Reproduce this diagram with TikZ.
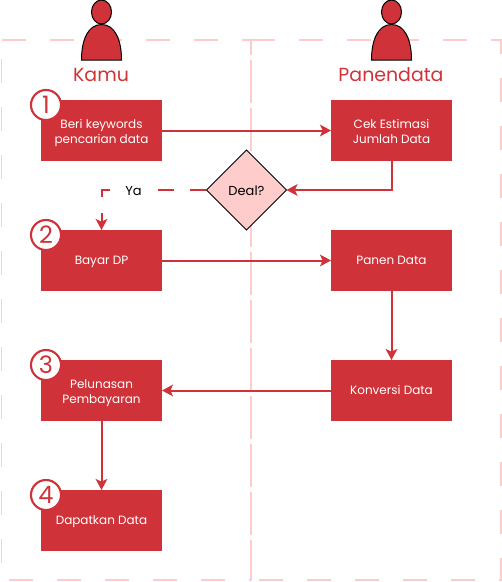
\documentclass[tikz,border=0pt]{standalone}
\usepackage{fontspec}
\setmainfont{Poppins}
\usetikzlibrary{shapes.geometric,arrows.meta}
\definecolor{merah}{HTML}{CF3339}
\definecolor{pink}{HTML}{FFCCCC}
\newcommand{\dualine}[2]{\rule{0pt}{12pt}#1\\#2}
\tikzset{task/.style={draw=none,fill=merah,text=white,rectangle,minimum width=90.75pt,minimum height=45.75pt,inner sep=0pt,outer sep=0pt,align=center,font=\fontsize{9}{11.25}\selectfont,execute at begin node={\rule{0pt}{10.2pt}},execute at end node={\rule[-3.5pt]{0pt}{3.5pt}}}}
\tikzset{badge/.style={circle,draw=merah,fill=white,line width=1.6pt,minimum size=22.5pt,inner sep=0pt,text=merah,font=\fontsize{18}{18}\selectfont}}
\tikzset{deal/.style={diamond,draw=black,fill=pink,line width=0.75pt,minimum width=60pt,minimum height=60pt,inner sep=0pt,outer sep=0pt,text height=8.2pt,font=\fontsize{9.75}{11}\selectfont}}
\tikzset{actor/.style={draw=black,fill=merah,line width=0.75pt}}
\tikzset{lane/.style={draw=pink,line width=1.2pt,dash pattern=on 18pt off 18pt}}
\tikzset{judul/.style={text=merah,font=\fontsize{14.2}{18}\selectfont}}
\tikzset{flow/.style={draw=merah,line width=1.5pt,->}}

\begin{document}
\begin{tikzpicture}[x=0.75pt,y=-0.75pt,>={Stealth[length=8.25pt,width=8.75pt,inset=2pt]}]
    \useasboundingbox (0,0) rectangle (502,582);

    \draw[lane] (1.5,40) -- (251,40) -- (251,580) -- (1.5,580) -- cycle;
    \draw[lane] (251,40) -- (501,40) -- (501,580) -- (251,580) -- cycle;

    \draw[actor] (81.5,60) .. controls (81.5,40) and (88,24.5) .. (101.5,24.5) .. controls (115,24.5) and (121.5,40) .. (121.5,60) -- cycle;
    \draw[actor] (101.5,12) ellipse (10 and 12);
    \draw[actor] (371.5,60) .. controls (371.5,40) and (378,24.5) .. (391.5,24.5) .. controls (405,24.5) and (411.5,40) .. (411.5,60) -- cycle;
    \draw[actor] (391.5,12) ellipse (10 and 12);

    \node[judul] (kamu) at (101,75) {Kamu};
    \node[judul] (panendata) at (391,75) {Panendata};

    \node[task] (beri) at (101.5,130.5) {\dualine{Beri keywords}{pencarian data}};
    \node[task] (cek) at (391.5,130.5) {\dualine{Cek Estimasi}{Jumlah Data}};
    \node[deal] (dealq) at (246.5,190) {Deal?};
    \node[task] (bayar) at (101.5,260.5) {Bayar DP};
    \node[task] (panen) at (391.5,260.5) {Panen Data};
    \node[task] (lunas) at (101.5,390.5) {\dualine{Pelunasan}{Pembayaran}};
    \node[task] (konversi) at (391.5,390.5) {Konversi Data};
    \node[task] (dapat) at (101.5,520.5) {Dapatkan Data};

    \node[badge] (satu) at (46,105) {1};
    \node[badge] (dua) at (46,235) {2};
    \node[badge] (tiga) at (46,365) {3};
    \node[badge] (empat) at (46,495) {4};

    \draw[flow] (beri) to (cek);
    \draw[flow] (cek) |- (dealq);
    \draw[flow,dash pattern=on 12pt off 12pt] (dealq) -| (bayar);
    \node[fill=white,inner sep=0pt,minimum width=13.5pt,text height=8.2pt,font=\fontsize{9.75}{11}\selectfont] (ya) at (133.5,190) {Ya};
    \draw[flow] (bayar) to (panen);
    \draw[flow] (panen) to (konversi);
    \draw[flow] (konversi) to (lunas);
    \draw[flow] (lunas) to (dapat);
\end{tikzpicture}
\end{document}
